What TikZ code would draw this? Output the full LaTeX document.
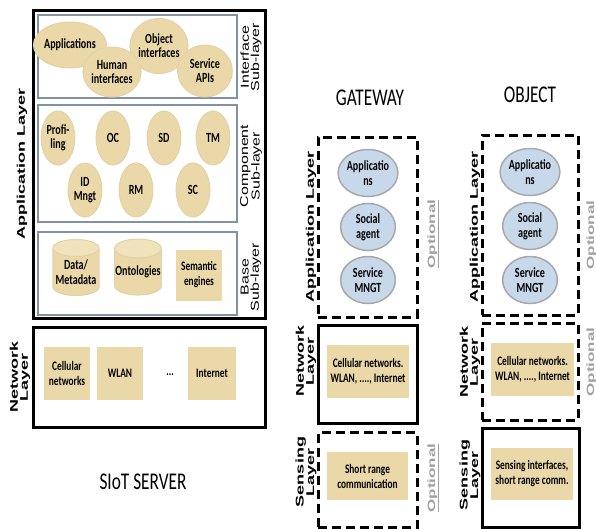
\documentclass[tikz,border=0pt]{standalone}
\usepackage{fontspec}
\setmainfont{Carlito}
\newfontfamily\arialf{Liberation Sans}
\usetikzlibrary{shapes.geometric}
\definecolor{tan}{RGB}{234,216,168}
\definecolor{tantop}{RGB}{240,226,186}
\definecolor{tanedge}{RGB}{226,210,166}
\definecolor{slate}{RGB}{128,146,166}
\definecolor{bluefill}{RGB}{200,216,235}
\definecolor{grayedge}{RGB}{168,168,168}
\definecolor{optgray}{RGB}{160,160,160}
\tikzset{
	sq/.style={xscale=0.72},
	layerbox/.style={draw, line width=3pt},
	optbox/.style={layerbox, dash pattern=on 9pt off 5pt},
	subbox/.style={draw=slate, line width=2.5pt},
	tanell/.style={ellipse, fill=tan, draw=tanedge, line width=1pt, sq, align=center, inner sep=0pt, font=\bfseries\fontsize{14}{14}\selectfont},
	blueell/.style={ellipse, fill=bluefill, draw=grayedge, line width=1.5pt, sq, align=center, inner sep=0pt, font=\bfseries\fontsize{14}{15}\selectfont},
	tanrect/.style={rectangle, fill=tan, sq, align=center, inner sep=0pt, font=\bfseries\fontsize{13}{15}\selectfont},
	tancyl/.style={cylinder, shape border rotate=90, aspect=0.3, cylinder uses custom fill, cylinder body fill=tan, cylinder end fill=tantop, draw=tanedge, line width=1pt, sq, align=center, inner sep=0pt, font=\bfseries\fontsize{14}{15}\selectfont},
	laylabel/.style={xscale=0.62, rotate=90, align=center, font=\arialf\bfseries\fontsize{18}{16}\selectfont},
	sublabel/.style={xscale=0.72, rotate=90, align=center, font=\arialf\fontsize{16}{14}\selectfont},
	optlabel/.style={xscale=0.62, rotate=90, text=optgray, font=\arialf\bfseries\fontsize{17}{17}\selectfont},
	title/.style={sq, font=\fontsize{24}{24}\selectfont},
}
\begin{document}
\begin{tikzpicture}[x=1pt, y=-1pt]
	\useasboundingbox[fill=white] (0,0) rectangle (596,528);
	% SIoT server
	\node (appl) at (149,164) [layerbox, minimum width=232pt, minimum height=308pt] {};
	\node (intf) at (137.5,56.5) [subbox, minimum width=199pt, minimum height=83pt] {};
	\node (comp) at (137.5,163.5) [subbox, minimum width=199pt, minimum height=117pt] {};
	\node (base) at (137.5,273.5) [subbox, minimum width=199pt, minimum height=83pt] {};
	\node (apps) at (70,45) [tanell, minimum width=76pt, minimum height=46pt] {Applications};
	\node (objif) at (159,46) [tanell, minimum width=80pt, minimum height=55pt] {Object\\interfaces};
	\node (human) at (112,72) [tanell, minimum width=79pt, minimum height=50pt] {Human\\interfaces};
	\node (servapi) at (205,71) [tanell, minimum width=76pt, minimum height=52pt] {Service\\APIs};
	\node (prof) at (58,138) [tanell, minimum width=47pt, minimum height=54pt] {Profi-\\ling};
	\node (oc) at (113,138) [tanell, minimum width=47pt, minimum height=54pt] {OC};
	\node (sd) at (164,138) [tanell, minimum width=47pt, minimum height=54pt] {SD};
	\node (tm) at (213,138) [tanell, minimum width=47pt, minimum height=54pt] {TM};
	\node (idm) at (85,190) [tanell, minimum width=47pt, minimum height=54pt] {ID\\Mngt};
	\node (rm) at (136,190) [tanell, minimum width=47pt, minimum height=54pt] {RM};
	\node (sc) at (193,190) [tanell, minimum width=47pt, minimum height=54pt] {SC};
	\node (data) at (76,272) [tancyl, minimum width=64pt, minimum height=56pt] {Data/\\Metadata};
	\node (onto) at (138,272) [tancyl, minimum width=65pt, minimum height=56pt] {Ontologies};
	\node (seman) at (199,275) [tanrect, minimum width=65pt, minimum height=51pt] {Semantic\\engines};
	\node (appl-lbl) at (22,164) [laylabel] {Application Layer};
	\node (intf-lbl) at (251,57) [sublabel] {Interface\\Sub-layer};
	\node (comp-lbl) at (251,166) [sublabel] {Component\\Sub-layer};
	\node (base-lbl) at (251,277) [sublabel] {Base\\Sub-layer};
	\node (net) at (149,377) [layerbox, minimum width=232pt, minimum height=100pt] {};
	\node (cell) at (67,373) [tanrect, minimum width=65pt, minimum height=53pt] {Cellular\\networks};
	\node (wlan) at (120,373) [tanrect, minimum width=65pt, minimum height=53pt] {WLAN};
	\node (dots) at (170,375) [sq, font=\bfseries\fontsize{13}{13}\selectfont] {...};
	\node (inet) at (212,373) [tanrect, minimum width=67pt, minimum height=53pt] {Internet};
	\node (net-lbl) at (20,377) [laylabel] {Network\\Layer};
	\node (server) at (143,482) [title] {SIoT SERVER};
	% gateway
	\node (gw) at (370,98) [title] {GATEWAY};
	\node (gwapp) at (367.5,227) [optbox, minimum width=99pt, minimum height=180pt] {};
	\node (gwapps) at (368,173) [blueell, minimum width=76pt, minimum height=47pt] {Applicatio\\ns};
	\node (gwsoc) at (368,227) [blueell, minimum width=76pt, minimum height=47pt] {Social\\agent};
	\node (gwserv) at (368,280) [blueell, minimum width=76pt, minimum height=47pt] {Service\\MNGT};
	\node (gwapp-lbl) at (311,227) [laylabel] {Application Layer};
	\node (gwapp-opt) at (433,234) [optlabel] {\underline{Optional}};
	\node (gwnet) at (367.5,374) [layerbox, minimum width=99pt, minimum height=98pt] {};
	\node (gwcell) at (368,371.5) [tanrect, minimum width=114pt, minimum height=53pt] {Cellular networks.\\WLAN, ...., Internet};
	\node (gwnet-lbl) at (306,361) [laylabel] {Network\\Layer};
	\node (gwsens) at (367.5,480) [optbox, minimum width=99pt, minimum height=95pt] {};
	\node (gwshort) at (367.5,476) [tanrect, minimum width=112pt, minimum height=48pt] {Short range\\communication};
	\node (gwsens-lbl) at (306,472) [laylabel] {Sensing\\Layer};
	\node (gwsens-opt) at (433,478) [optlabel] {\underline{Optional}};
	% object
	\node (obj) at (530,95) [title] {OBJECT};
	\node (obapp) at (530,225) [optbox, minimum width=96pt, minimum height=180pt] {};
	\node (obapps) at (530,172) [blueell, minimum width=76pt, minimum height=47pt] {Applicatio\\ns};
	\node (obsoc) at (530,226) [blueell, minimum width=76pt, minimum height=47pt] {Social\\agent};
	\node (observ) at (530,280) [blueell, minimum width=76pt, minimum height=47pt] {Service\\MNGT};
	\node (obapp-lbl) at (475,227) [laylabel] {Application Layer};
	\node (obapp-opt) at (592,235) [optlabel] {\underline{Optional}};
	\node (obnet) at (530,371.5) [optbox, minimum width=96pt, minimum height=97pt] {};
	\node (obcell) at (532.5,369.5) [tanrect, minimum width=115pt, minimum height=53pt] {Cellular networks.\\WLAN, ...., Internet};
	\node (obnet-lbl) at (470,362) [laylabel] {Network\\Layer};
	\node (obnet-opt) at (592,362) [optlabel] {\underline{Optional}};
	\node (obsens) at (530.5,477.5) [layerbox, minimum width=97pt, minimum height=99pt] {};
	\node (obshort) at (532,474) [tanrect, minimum width=114pt, minimum height=52pt] {Sensing interfaces,\\short range comm.};
	\node (obsens-lbl) at (470,475) [laylabel] {Sensing\\Layer};
\end{tikzpicture}
\end{document}
